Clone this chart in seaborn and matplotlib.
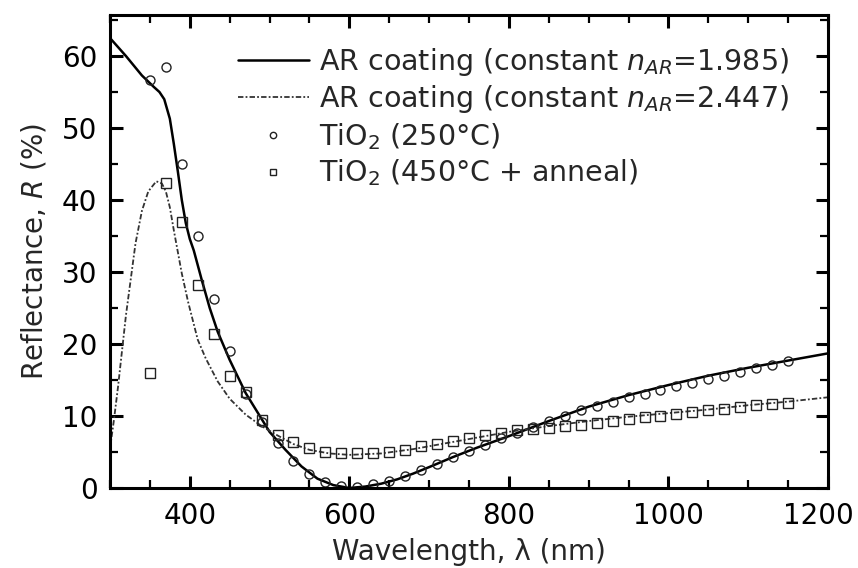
import numpy as np
import pandas as pd
import matplotlib
matplotlib.use("Agg")
import matplotlib.pyplot as plt
import matplotlib.transforms as mtransforms
from matplotlib.ticker import MultipleLocator
import seaborn as sns

# ---- data ----
wl_ar1 = [300, 320, 340, 355, 362, 368, 375, 380, 385, 390, 395, 400, 405, 415, 425, 435,
          450, 470, 480, 500, 520, 540, 560, 580, 600, 620, 640, 660, 680, 700, 730, 760,
          800, 850, 900, 950, 1000, 1050, 1100, 1150, 1200]
r_ar1 = [62.5, 60.0, 57.3, 55.7, 55.0, 54.0, 51.3, 47.8, 44.0, 40.0, 36.8, 34.6, 33.0, 28.9, 25.0, 21.7,
         17.8, 13.2, 11.4, 7.8, 5.3, 3.0, 1.3, 0.4, 0.0, 0.2, 0.6, 1.2, 2.0, 2.9, 4.3, 5.6,
         7.2, 9.3, 11.3, 12.9, 14.3, 15.6, 16.7, 17.7, 18.7]

wl_ar2 = [300, 305, 310, 315, 320, 326, 332, 340, 348, 358, 365, 370, 375, 380, 390, 398,
          410, 420, 435, 450, 470, 490, 510, 530, 550, 575, 600, 640, 680, 720, 760, 800,
          850, 900, 950, 1000, 1050, 1100, 1150, 1200]
r_ar2 = [5.5, 9.5, 14.0, 19.0, 24.0, 29.0, 34.0, 38.5, 41.2, 42.6, 42.3, 41.2, 39.0, 35.8, 29.8, 25.8,
         20.6, 18.0, 14.8, 12.4, 10.2, 8.6, 7.3, 6.1, 5.3, 4.8, 4.6, 4.8, 5.4, 6.2, 7.0, 7.8,
         8.6, 9.3, 9.9, 10.4, 10.9, 11.5, 12.0, 12.6]

wl_meas = list(range(350, 1151, 20))
r_tio2_250 = [56.7, 58.5, 45.0, 35.0, 26.2, 19.0, 13.0, 9.2, 6.2, 3.8, 2.0, 0.8, 0.3, 0.2, 0.5,
              1.0, 1.7, 2.5, 3.3, 4.3, 5.2, 6.0, 6.9, 7.7, 8.5, 9.3, 10.0, 10.8, 11.4, 12.0,
              12.6, 13.1, 13.6, 14.1, 14.6, 15.1, 15.6, 16.1, 16.6, 17.1, 17.6]
r_tio2_450 = [16.0, 42.4, 37.0, 28.2, 21.4, 15.6, 13.3, 9.4, 7.3, 6.4, 5.6, 5.0, 4.8, 4.8, 4.9,
              5.0, 5.3, 5.8, 6.1, 6.5, 6.9, 7.3, 7.7, 8.0, 8.2, 8.4, 8.6, 8.8, 9.0, 9.3,
              9.6, 9.8, 10.0, 10.3, 10.5, 10.8, 11.0, 11.3, 11.5, 11.7, 11.8]

x_ticks = [400, 600, 800, 1000, 1200]
y_ticks = [0, 10, 20, 30, 40, 50, 60]

lab_ar1 = r"AR coating (constant $n_{AR}$=1.985)"
lab_ar2 = r"AR coating (constant $n_{AR}$=2.447)"
lab_250 = r"TiO$_2$ (250°C)"
lab_450 = r"TiO$_2$ (450°C + anneal)"

# ---- style ----
sns.set_theme(style="ticks")
plt.rcParams["font.family"] = ["DejaVu Sans"]
plt.rcParams["mathtext.fontset"] = "dejavusans"

fig = plt.figure(figsize=(8.58, 5.68), dpi=100)
ax = fig.add_axes([110/858, 80/568, 718/858, 473/568])

df1 = pd.DataFrame({"wl": wl_ar1, "R": r_ar1})
df2 = pd.DataFrame({"wl": wl_ar2, "R": r_ar2})
dm = pd.DataFrame({"wl": wl_meas, "R250": r_tio2_250, "R450": r_tio2_450})

sns.lineplot(data=df1, x="wl", y="R", ax=ax, color="black", lw=1.8, label=lab_ar1)
sns.lineplot(data=df2, x="wl", y="R", ax=ax, color="#333333", lw=1.3,
             linestyle=(0, (3, 1.2, 1, 1.2)), label=lab_ar2)
sns.lineplot(data=dm, x="wl", y="R250", ax=ax, color="black", linestyle="none",
             marker="o", markersize=6.5, markerfacecolor="none", markeredgecolor="#222222",
             markeredgewidth=1.0, label=lab_250)
sns.lineplot(data=dm, x="wl", y="R450", ax=ax, color="black", linestyle="none",
             marker="s", markersize=6.5, markerfacecolor="none", markeredgecolor="#222222",
             markeredgewidth=1.0, label=lab_450)

ax.set_xlim(300, 1200)
ax.set_ylim(0, 65.7)
ax.set_xticks(x_ticks)
ax.set_yticks(y_ticks)
ax.xaxis.set_minor_locator(MultipleLocator(50))
ax.yaxis.set_minor_locator(MultipleLocator(5))
ax.tick_params(which="both", direction="in", top=True, right=True, colors="black")
ax.tick_params(which="major", length=9, width=2.2, labelsize=20, pad=10)
ax.tick_params(which="minor", length=5.5, width=1.6)
ax.tick_params(axis="y", which="major", pad=9)
for sp in ax.spines.values():
    sp.set_linewidth(2.2)
    sp.set_color("black")

# keep the last x tick label inside the figure, as in the reference
fig.canvas.draw()
last = ax.get_xticklabels()[-1]
last.set_transform(last.get_transform() +
                   mtransforms.ScaledTranslation(-10/100, 0, fig.dpi_scale_trans))

ax.set_xlabel(r"Wavelength, λ (nm)", fontsize=20, labelpad=6)
ax.set_ylabel(r"Reflectance, $R$ (%)", fontsize=20, labelpad=10)

leg = ax.legend(loc="upper left", bbox_to_anchor=(0.178, 0.935), frameon=False,
                fontsize=20.5, handlelength=2.5, handletextpad=0.35, labelspacing=0.2,
                borderaxespad=0, borderpad=0, markerscale=0.7)

fig.savefig("out.png", dpi=100)
